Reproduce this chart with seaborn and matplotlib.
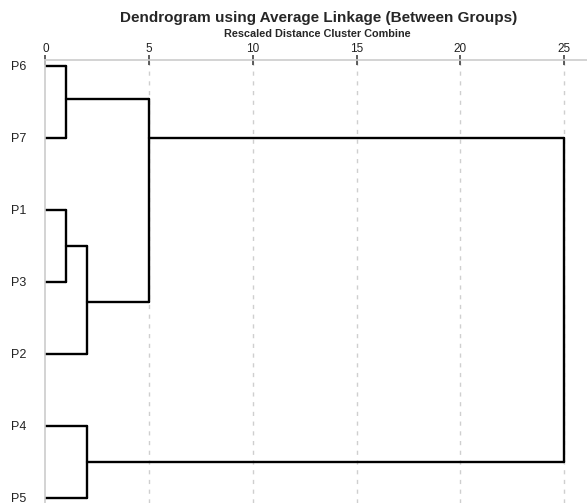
import pandas as pd
import matplotlib.pyplot as plt
import seaborn as sns

# leaves from top to bottom
leaves = ["P6", "P7", "P1", "P3", "P2", "P4", "P5"]

# merges: (left cluster, right cluster, rescaled distance); new clusters get ids 7, 8, ...
merge_left = [0, 2, 8, 5, 7, 11]
merge_right = [1, 3, 4, 6, 9, 10]
merge_dist = [1, 1, 2, 2, 5, 25]
# row where each merged cluster leaves the bracket (as drawn by SPSS)
merge_row = [0.46, 2.5, 3.28, 5.5, 1.0, None]

ticks = [0, 5, 10, 15, 20, 25]

# build segment table
node_x = {i: 0 for i in range(len(leaves))}
node_y = {i: float(i) for i in range(len(leaves))}
segs = []
sid = 0
for k, (a, b, d) in enumerate(zip(merge_left, merge_right, merge_dist)):
    for n in (a, b):
        segs.append((sid, node_x[n], node_y[n]))
        segs.append((sid, d, node_y[n]))
        sid += 1
    segs.append((sid, d, node_y[a]))
    segs.append((sid, d, node_y[b]))
    sid += 1
    new = len(leaves) + k
    node_x[new] = d
    node_y[new] = merge_row[k]

df = pd.DataFrame(segs, columns=["seg", "x", "y"])

sns.set_style("white")
plt.rcParams['font.family'] = ['Liberation Sans', 'DejaVu Sans']

fig = plt.figure(figsize=(5.87, 5.03), dpi=100)
ax = fig.add_axes([0.0772, 0.0, 0.9228, 0.8807])

for t in ticks[1:]:
    ax.axvline(t, color="#cfcfcf", lw=1, dashes=(3, 4), zorder=0)

sns.lineplot(data=df, x="x", y="y", units="seg", estimator=None, sort=False,
             color="black", lw=1.7, ax=ax, legend=False)

ax.set_xlim(0, 26.1)
ax.set_ylim(6.07, -0.08)
ax.xaxis.tick_top()
ax.set_xticks(ticks)
ax.set_xticklabels([str(t) for t in ticks], fontsize=8.5, color="#222222")
ax.tick_params(axis="x", direction="inout", length=7, width=1.2, color="#444444", pad=0)
ax.set_yticks(range(len(leaves)))
ax.set_yticklabels(leaves, fontsize=9, color="#222222", ha="left")
ax.tick_params(axis="y", length=0, pad=25)
ax.set_xlabel("")
ax.set_ylabel("")

for s in ["right", "bottom"]:
    ax.spines[s].set_visible(False)
for s in ["top", "left"]:
    ax.spines[s].set_color("#cccccc")
    ax.spines[s].set_linewidth(1.2)

fig.text(0.543, 0.964, "Dendrogram using Average Linkage (Between Groups)",
         ha="center", va="center", fontsize=11, fontweight="bold")
fig.text(0.54, 0.932, "Rescaled Distance Cluster Combine",
         ha="center", va="center", fontsize=7.8, fontweight="bold")

fig.savefig("out.png", dpi=100)
